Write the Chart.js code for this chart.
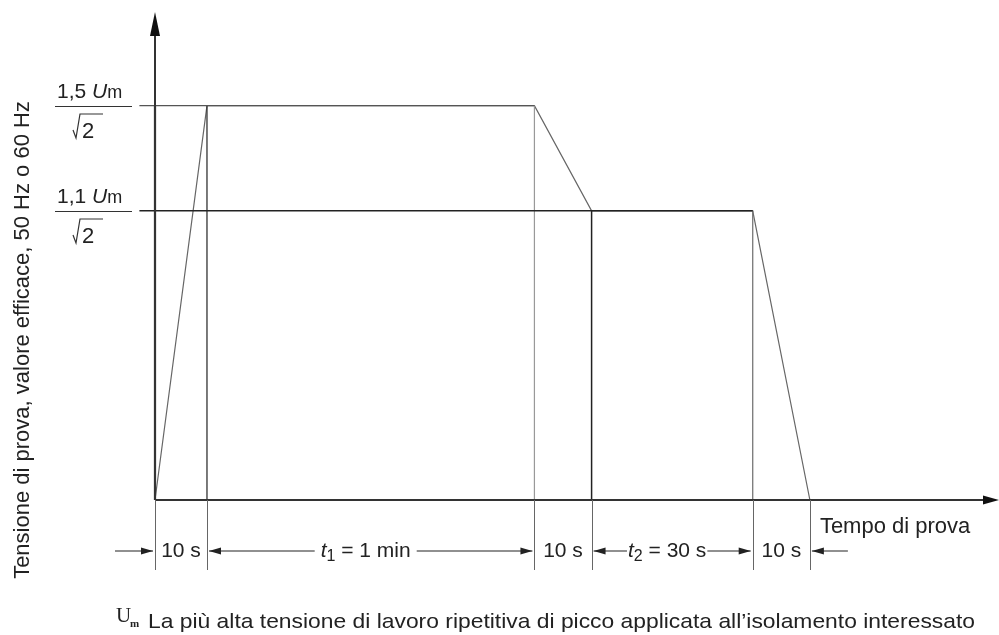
<!DOCTYPE html>
<html>
<head>
<meta charset="utf-8">
<script src="https://cdn.jsdelivr.net/npm/chart.js@4/dist/chart.umd.min.js"></script>
<style>
  html, body { margin: 0; padding: 0; background: #fff; }
  #wrap { width: 999px; height: 635px; }
</style>
</head>
<body>
<div id="wrap"><canvas id="chartCanva"></canvas></div>
<script>
// time axis in drawing units (the sketch is not to scale), voltage in multiples of Um
var timePoints = [0, 10, 73, 84, 115, 126];
var levels = [0, 1.5, 1.5, 1.1, 1.1, 0];
var levelValues = [1.5, 1.1];
var levelCoeffs = ['1,5', '1,1'];
var phaseLabels = ['10 s', 't_1 = 1 min', '10 s', 't_2 = 30 s', '10 s'];
var phaseArrows = [false, true, false, true, false];
var yTitle = 'Tensione di prova, valore efficace, 50 Hz o 60 Hz';
var xTitle = 'Tempo di prova';
var footNote = 'La più alta tensione di lavoro ripetitiva di picco applicata all\u2019isolamento interessato';

var FONT = '"Liberation Sans", Arial, sans-serif';

var profile = timePoints.map(function (t, i) { return { x: t, y: levels[i] }; });

// verticals from the axis up to each breakpoint
var verticals = [];
timePoints.forEach(function (t, i) {
    var top = i === 0 ? levels[1] : levels[i];
    if (top > 0) verticals.push([{ x: t, y: 0 }, { x: t, y: top }]);
});
var vColors = ['#111', '#333', '#999', '#222', '#777'];
var vWidths = [2.2, 1.3, 1.2, 1.5, 1.3];

var datasets = [];
levelValues.forEach(function (v, i) {
    datasets.push({
        data: [{ x: -3, y: v }, { x: timePoints[2 + 2 * i], y: v }],
        borderColor: i === 0 ? '#555' : '#222', borderWidth: 1.4,
        showLine: true, pointRadius: 0, clip: false
    });
});
verticals.forEach(function (seg, i) {
    datasets.push({
        data: seg, borderColor: vColors[i], borderWidth: vWidths[i],
        showLine: true, pointRadius: 0, clip: false
    });
});
datasets.push({
    data: profile, borderColor: '#666', borderWidth: 1.2,
    showLine: true, pointRadius: 0, clip: false
});

function arrowHead(ctx, x, y, dx, dy, len, half) {
    var px = -dy, py = dx;
    ctx.beginPath();
    ctx.moveTo(x, y);
    ctx.lineTo(x - dx * len + px * half, y - dy * len + py * half);
    ctx.lineTo(x - dx * len - px * half, y - dy * len - py * half);
    ctx.closePath();
    ctx.fill();
}

// split "t_1 = 1 min" into italic t, subscript 1, rest
function parts(label) {
    var m = label.match(/^(\w)_(\w)(.*)$/);
    if (!m) return [{ t: label, f: '21px ' + FONT, dy: 0 }];
    return [
        { t: m[1], f: 'italic 21px ' + FONT, dy: 0 },
        { t: m[2], f: '16px ' + FONT, dy: 6 },
        { t: m[3], f: '21px ' + FONT, dy: 0 }
    ];
}

var sketchPlugin = {
    id: 'sketch',
    afterDatasetsDraw: function (chart) {
        var ctx = chart.ctx;
        var xs = chart.scales.x, ys = chart.scales.y;
        var x0 = xs.getPixelForValue(0), y0 = ys.getPixelForValue(0);
        var dimBottom = y0 + 70, dimY = y0 + 51;
        ctx.save();

        // axes
        ctx.strokeStyle = '#333'; ctx.fillStyle = '#111'; ctx.lineWidth = 2;
        ctx.beginPath();
        ctx.moveTo(x0, y0); ctx.lineTo(x0, chart.chartArea.top + 16);
        ctx.moveTo(x0, y0); ctx.lineTo(chart.chartArea.right - 10, y0);
        ctx.stroke();
        arrowHead(ctx, x0, chart.chartArea.top, 0, -1, 24, 5);
        arrowHead(ctx, chart.chartArea.right + 2, y0, 1, 0, 16, 4.5);

        // dimension lines below the axis
        ctx.strokeStyle = '#666'; ctx.lineWidth = 1;
        timePoints.forEach(function (t) {
            var px = Math.round(xs.getPixelForValue(t)) + 0.5;
            ctx.beginPath(); ctx.moveTo(px, y0); ctx.lineTo(px, dimBottom); ctx.stroke();
        });

        ctx.fillStyle = '#222'; ctx.strokeStyle = '#222'; ctx.lineWidth = 1.2;
        ctx.textBaseline = 'middle';
        phaseLabels.forEach(function (lab, i) {
            var a = xs.getPixelForValue(timePoints[i]), b = xs.getPixelForValue(timePoints[i + 1]);
            var ps = parts(lab), w = 0;
            ps.forEach(function (p) { ctx.font = p.f; p.w = ctx.measureText(p.t).width; w += p.w; });
            var cx = (a + b) / 2 - (phaseArrows[i] ? 5 : 0);
            var sx = cx - w / 2;
            ps.forEach(function (p) { ctx.font = p.f; ctx.fillText(p.t, sx, dimY + p.dy); sx += p.w; });
            if (phaseArrows[i]) {
                var gap = i === 1 ? 6 : 1;
                ctx.beginPath();
                ctx.moveTo(a + 2, dimY); ctx.lineTo(cx - w / 2 - gap, dimY);
                ctx.moveTo(cx + w / 2 + gap, dimY); ctx.lineTo(b - 2, dimY);
                ctx.stroke();
                arrowHead(ctx, a + 2, dimY, -1, 0, 12, 3.5);
                arrowHead(ctx, b - 2, dimY, 1, 0, 12, 3.5);
            }
        });
        // outer arrows
        var xe = xs.getPixelForValue(timePoints[timePoints.length - 1]);
        ctx.beginPath();
        ctx.moveTo(x0 - 40, dimY); ctx.lineTo(x0 - 2, dimY);
        ctx.moveTo(xe + 2, dimY); ctx.lineTo(xe + 38, dimY);
        ctx.stroke();
        arrowHead(ctx, x0 - 2, dimY, 1, 0, 12, 3.5);
        arrowHead(ctx, xe + 2, dimY, -1, 0, 12, 3.5);

        // x title
        ctx.font = '22px ' + FONT; ctx.textBaseline = 'alphabetic'; ctx.textAlign = 'left';
        ctx.fillText(xTitle, xe + 10, y0 + 33);

        // level labels U_m / sqrt 2
        levelValues.forEach(function (v, i) {
            var py = Math.round(ys.getPixelForValue(v));
            ctx.fillStyle = '#222';
            ctx.font = '21px ' + FONT;
            var tx = 57;
            ctx.fillText(levelCoeffs[i] + ' ', tx, py - 8);
            tx += ctx.measureText(levelCoeffs[i] + ' ').width;
            ctx.font = 'italic 21px ' + FONT;
            ctx.fillText('U', tx, py - 8);
            tx += ctx.measureText('U').width;
            ctx.font = '18px ' + FONT;
            ctx.fillText('m', tx, py - 8);
            ctx.strokeStyle = '#333'; ctx.lineWidth = 1.2;
            ctx.beginPath(); ctx.moveTo(55, py + 0.5); ctx.lineTo(132, py + 0.5); ctx.stroke();
            ctx.beginPath();
            ctx.moveTo(73, py + 24); ctx.lineTo(76, py + 32); ctx.lineTo(80, py + 8); ctx.lineTo(103, py + 8);
            ctx.stroke();
            ctx.font = '22px ' + FONT;
            ctx.fillText('2', 82, py + 32);
        });

        // y title
        ctx.save();
        ctx.translate(29, 340); ctx.rotate(-Math.PI / 2);
        ctx.textAlign = 'center'; ctx.font = '22px ' + FONT; ctx.fillStyle = '#222';
        ctx.fillText(yTitle, 0, 0);
        ctx.restore();

        // footnote
        ctx.fillStyle = '#222';
        ctx.font = '21px "Liberation Serif", serif';
        ctx.fillText('U', 116, 622);
        ctx.font = 'bold 11px "Liberation Serif", serif';
        ctx.fillText('m', 130, 627);
        ctx.font = '21px ' + FONT;
        var fw = ctx.measureText(footNote).width;
        ctx.save();
        ctx.translate(148, 628); ctx.scale(827 / fw, 1);
        ctx.fillText(footNote, 0, 0);
        ctx.restore();

        ctx.restore();
    }
};

new Chart(document.getElementById('chartCanva'), {
    type: 'scatter',
    data: { datasets: datasets },
    options: {
        responsive: true,
        maintainAspectRatio: false,
        animation: false,
        layout: { padding: { left: 155, right: 2, top: 12, bottom: 135 } },
        plugins: { legend: { display: false }, tooltip: { enabled: false } },
        scales: {
            x: { type: 'linear', min: 0, max: 162, display: false },
            y: { type: 'linear', min: 0, max: 1.856, display: false }
        }
    },
    plugins: [sketchPlugin]
});
</script>
</body>
</html>
